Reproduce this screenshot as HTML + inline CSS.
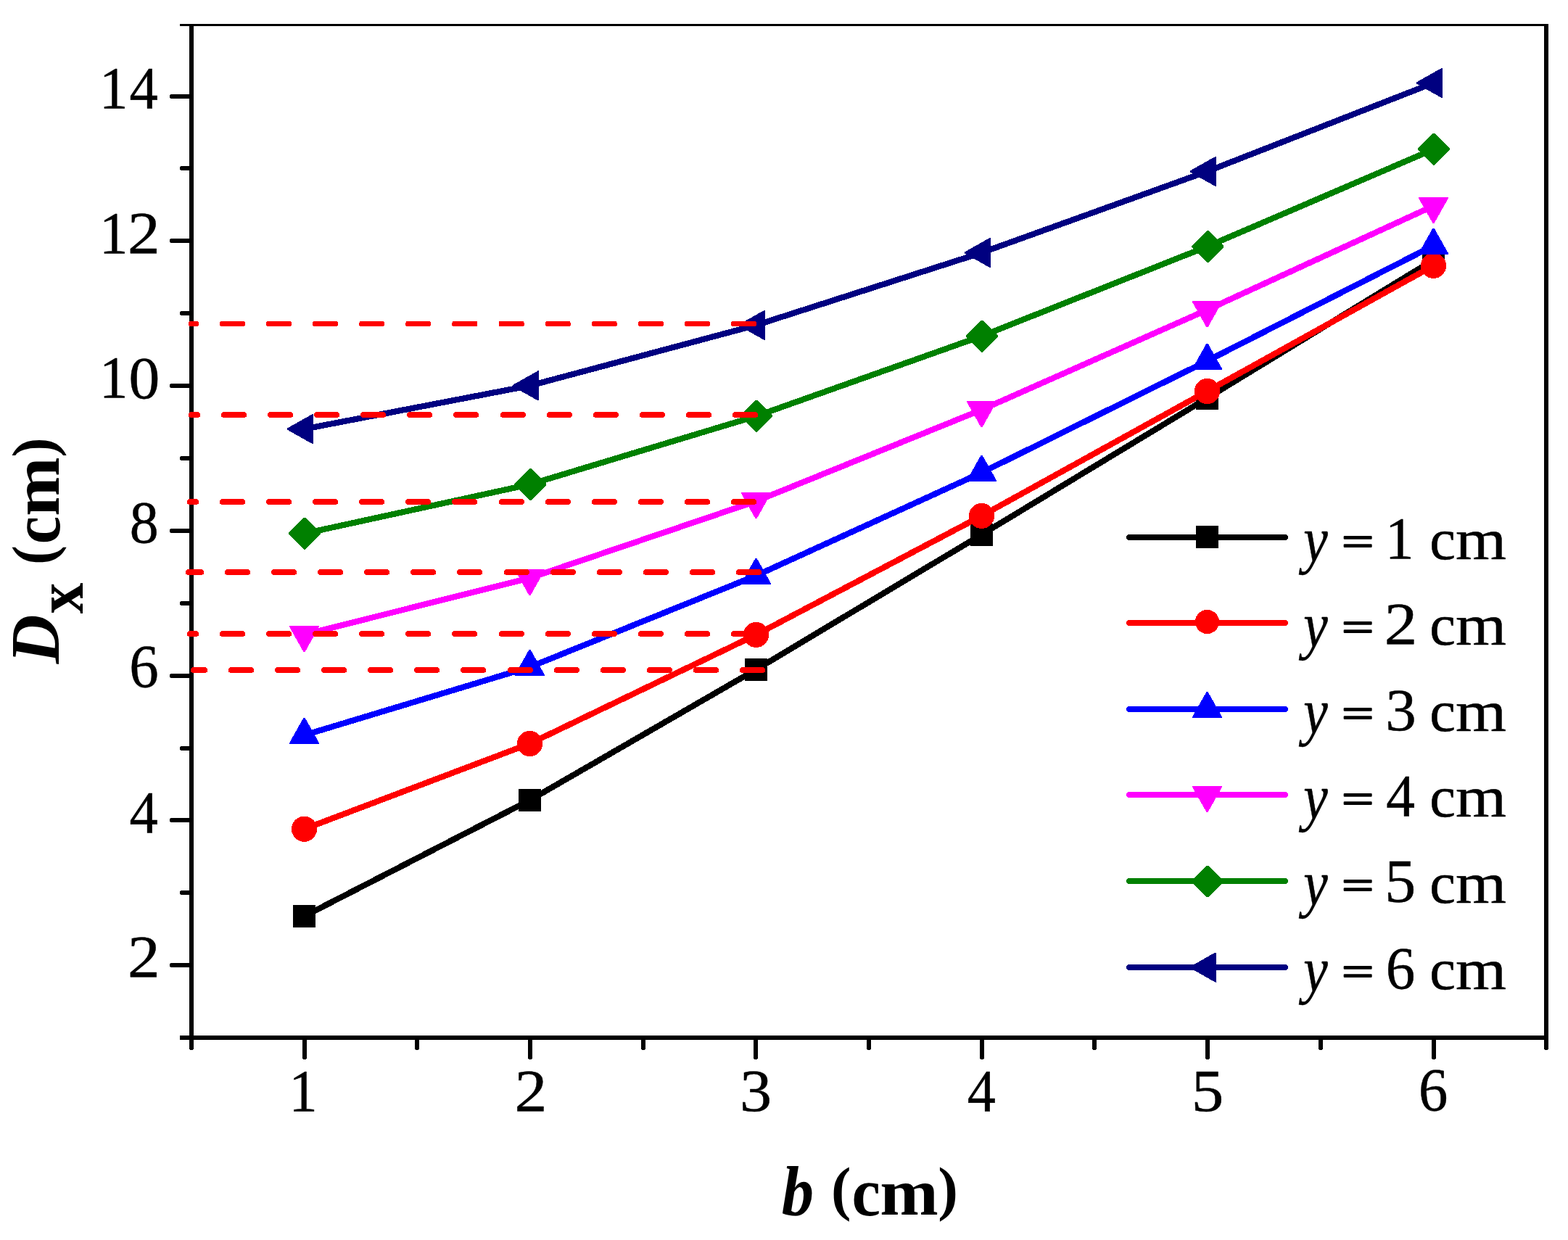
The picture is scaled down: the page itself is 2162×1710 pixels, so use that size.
<!DOCTYPE html>
<html lang="en"><head><meta charset="utf-8"><title>Dx versus b</title>
<style>html,body{margin:0;padding:0;background:#fff}body{width:2162px;height:1710px;overflow:hidden}svg{display:block}text{font-family:"Liberation Serif",serif;fill:#000}</style>
</head><body>
<svg width="2162" height="1710" viewBox="0 0 2162 1710" role="img" aria-label="Dx (cm) versus b (cm) for y = 1 to 6 cm">
<rect width="2162" height="1710" fill="#fff"/>
<g shape-rendering="crispEdges">
<g fill="#000" stroke="none">
<rect x="248" y="33" width="1887" height="3"/>
<rect x="261" y="33" width="6" height="1400"/>
<rect x="2129" y="33" width="6" height="1400"/>
<rect x="248" y="1428" width="1887" height="6"/>
</g>
<g fill="#000" stroke="none">
<rect x="235" y="1328" width="29" height="6"/><rect x="234" y="1329" width="30" height="4"/>
<rect x="235" y="1128" width="29" height="6"/><rect x="234" y="1129" width="30" height="4"/>
<rect x="235" y="929" width="29" height="6"/><rect x="234" y="930" width="30" height="4"/>
<rect x="235" y="729" width="29" height="6"/><rect x="234" y="730" width="30" height="4"/>
<rect x="235" y="529" width="29" height="6"/><rect x="234" y="530" width="30" height="4"/>
<rect x="235" y="329" width="29" height="6"/><rect x="234" y="330" width="30" height="4"/>
<rect x="235" y="130" width="29" height="6"/><rect x="234" y="131" width="30" height="4"/>
<rect x="249" y="1228" width="15" height="6"/><rect x="248" y="1229" width="16" height="4"/>
<rect x="249" y="1029" width="15" height="6"/><rect x="248" y="1030" width="16" height="4"/>
<rect x="249" y="829" width="15" height="6"/><rect x="248" y="830" width="16" height="4"/>
<rect x="249" y="629" width="15" height="6"/><rect x="248" y="630" width="16" height="4"/>
<rect x="249" y="429" width="15" height="6"/><rect x="248" y="430" width="16" height="4"/>
<rect x="249" y="229" width="15" height="6"/><rect x="248" y="230" width="16" height="4"/>
<rect x="417" y="1431" width="6" height="29"/><rect x="418" y="1431" width="4" height="30"/>
<rect x="728" y="1431" width="6" height="29"/><rect x="729" y="1431" width="4" height="30"/>
<rect x="1039" y="1431" width="6" height="29"/><rect x="1040" y="1431" width="4" height="30"/>
<rect x="1351" y="1431" width="6" height="29"/><rect x="1352" y="1431" width="4" height="30"/>
<rect x="1662" y="1431" width="6" height="29"/><rect x="1663" y="1431" width="4" height="30"/>
<rect x="1974" y="1431" width="6" height="29"/><rect x="1975" y="1431" width="4" height="30"/>
<rect x="572" y="1431" width="6" height="16"/><rect x="573" y="1431" width="4" height="17"/>
<rect x="884" y="1431" width="6" height="16"/><rect x="885" y="1431" width="4" height="17"/>
<rect x="1195" y="1431" width="6" height="16"/><rect x="1196" y="1431" width="4" height="17"/>
<rect x="1506" y="1431" width="6" height="16"/><rect x="1507" y="1431" width="4" height="17"/>
<rect x="1818" y="1431" width="6" height="16"/><rect x="1819" y="1431" width="4" height="17"/>
<rect x="261" y="1431" width="6" height="16"/><rect x="262" y="1431" width="4" height="17"/>
<rect x="2129" y="1431" width="6" height="16"/><rect x="2130" y="1431" width="4" height="17"/>
</g>
<g>
<polyline points="419.5,1263.5 730.5,1103.5 1042.5,923.3 1353.5,737.2 1664.5,549 1976.5,358.5" fill="none" stroke="#000000" stroke-width="8.2" stroke-linejoin="round"/>
<rect x="404" y="1248" width="31" height="31" fill="#000000"/>
<rect x="715" y="1088" width="31" height="31" fill="#000000"/>
<rect x="1027" y="907.8" width="31" height="31" fill="#000000"/>
<rect x="1338" y="721.7" width="31" height="31" fill="#000000"/>
<rect x="1649" y="533.5" width="31" height="31" fill="#000000"/>
<rect x="1961" y="343" width="31" height="31" fill="#000000"/>
</g>
<g>
<polyline points="419.5,1143.25 730.5,1025.5 1042.5,875.4 1353.5,711.4 1664.5,539.5 1976.5,366.4" fill="none" stroke="#ff0000" stroke-width="8.2" stroke-linejoin="round"/>
<circle cx="419.5" cy="1143.25" r="17.6" fill="#ff0000"/>
<circle cx="730.5" cy="1025.5" r="17.6" fill="#ff0000"/>
<circle cx="1042.5" cy="875.4" r="17.6" fill="#ff0000"/>
<circle cx="1353.5" cy="711.4" r="17.6" fill="#ff0000"/>
<circle cx="1664.5" cy="539.5" r="17.6" fill="#ff0000"/>
<circle cx="1976.5" cy="366.4" r="17.6" fill="#ff0000"/>
</g>
<g>
<polyline points="419.5,1013.8 730.5,919.9 1042.5,793.8 1353.5,651.8 1664.5,497.7 1976.5,338.7" fill="none" stroke="#0000ff" stroke-width="8.2" stroke-linejoin="round"/>
<polygon points="418.5,989.8 420.5,989.8 440,1024.4 440,1025.8 399,1025.8 399,1024.4" fill="#0000ff"/>
<polygon points="729.5,895.9 731.5,895.9 751,930.5 751,931.9 710,931.9 710,930.5" fill="#0000ff"/>
<polygon points="1041.5,769.8 1043.5,769.8 1063,804.4 1063,805.8 1022,805.8 1022,804.4" fill="#0000ff"/>
<polygon points="1352.5,627.8 1354.5,627.8 1374,662.4 1374,663.8 1333,663.8 1333,662.4" fill="#0000ff"/>
<polygon points="1663.5,473.7 1665.5,473.7 1685,508.3 1685,509.7 1644,509.7 1644,508.3" fill="#0000ff"/>
<polygon points="1975.5,314.7 1977.5,314.7 1997,349.3 1997,350.7 1956,350.7 1956,349.3" fill="#0000ff"/>
</g>
<g>
<polyline points="419.5,875.1 730.5,797.1 1042.5,691.2 1353.5,565.1 1664.5,427.3 1976.5,284" fill="none" stroke="#ff00ff" stroke-width="8.2" stroke-linejoin="round"/>
<polygon points="418.5,899.1 420.5,899.1 440,864.5 440,863.1 399,863.1 399,864.5" fill="#ff00ff"/>
<polygon points="729.5,821.1 731.5,821.1 751,786.5 751,785.1 710,785.1 710,786.5" fill="#ff00ff"/>
<polygon points="1041.5,715.2 1043.5,715.2 1063,680.6 1063,679.2 1022,679.2 1022,680.6" fill="#ff00ff"/>
<polygon points="1352.5,589.1 1354.5,589.1 1374,554.5 1374,553.1 1333,553.1 1333,554.5" fill="#ff00ff"/>
<polygon points="1663.5,451.3 1665.5,451.3 1685,416.7 1685,415.3 1644,415.3 1644,416.7" fill="#ff00ff"/>
<polygon points="1975.5,308 1977.5,308 1997,273.4 1997,272 1956,272 1956,273.4" fill="#ff00ff"/>
</g>
<g>
<polyline points="419.5,735.8 730.5,668 1042.5,573.9 1353.5,463.5 1664.5,340 1976.5,205.9" fill="none" stroke="#008000" stroke-width="8.2" stroke-linejoin="round"/>
<polygon points="419,713.8 421,713.8 442,734.8 442,736.8 421,757.8 419,757.8 398,736.8 398,734.8" fill="#008000"/>
<polygon points="730,646 732,646 753,667 753,669 732,690 730,690 709,669 709,667" fill="#008000"/>
<polygon points="1042,551.9 1044,551.9 1065,572.9 1065,574.9 1044,595.9 1042,595.9 1021,574.9 1021,572.9" fill="#008000"/>
<polygon points="1353,441.5 1355,441.5 1376,462.5 1376,464.5 1355,485.5 1353,485.5 1332,464.5 1332,462.5" fill="#008000"/>
<polygon points="1664,318 1666,318 1687,339 1687,341 1666,362 1664,362 1643,341 1643,339" fill="#008000"/>
<polygon points="1976,183.9 1978,183.9 1999,204.9 1999,206.9 1978,227.9 1976,227.9 1955,206.9 1955,204.9" fill="#008000"/>
</g>
<g>
<polyline points="419.5,591.6 730.5,531.9 1042.5,448.4 1353.5,348.5 1664.5,236.4 1976.5,114.4" fill="none" stroke="#000080" stroke-width="8.2" stroke-linejoin="round"/>
<polygon points="396,590.6 396,592.6 430.6,612.1 432,612.1 432,571.1 430.6,571.1" fill="#000080"/>
<polygon points="707,530.9 707,532.9 741.6,552.4 743,552.4 743,511.4 741.6,511.4" fill="#000080"/>
<polygon points="1019,447.4 1019,449.4 1053.6,468.9 1055,468.9 1055,427.9 1053.6,427.9" fill="#000080"/>
<polygon points="1330,347.5 1330,349.5 1364.6,369 1366,369 1366,328 1364.6,328" fill="#000080"/>
<polygon points="1641,235.4 1641,237.4 1675.6,256.9 1677,256.9 1677,215.9 1675.6,215.9" fill="#000080"/>
<polygon points="1953,113.4 1953,115.4 1987.6,134.9 1989,134.9 1989,93.9 1987.6,93.9" fill="#000080"/>
</g>
<g fill="none" stroke="#ff0000">
<path d="M1042.1 446.5 H260.9" stroke-width="7" stroke-dasharray="33.2 30.89"/>
<path d="M1042.75 446.5 H260.25" stroke-width="5.4" stroke-dasharray="34.5 29.59"/>
<path d="M1043 446.5 H260" stroke-width="4" stroke-dasharray="35 29.09"/>
<path d="M1043 572 H262" stroke-width="8" stroke-dasharray="31 33.09"/>
<path d="M1044 572 H261" stroke-width="6.6" stroke-dasharray="33 31.09"/>
<path d="M1044.6 572 H260.4" stroke-width="5" stroke-dasharray="34.2 29.89"/>
<path d="M1045 572 H260" stroke-width="3.4" stroke-dasharray="35 29.09"/>
<path d="M1041 692 H260" stroke-width="8" stroke-dasharray="31 33.09"/>
<path d="M1042 692 H259" stroke-width="6.6" stroke-dasharray="33 31.09"/>
<path d="M1042.6 692 H258.4" stroke-width="5" stroke-dasharray="34.2 29.89"/>
<path d="M1043 692 H258" stroke-width="3.4" stroke-dasharray="35 29.09"/>
<path d="M1048 789 H258" stroke-width="8" stroke-dasharray="31 33.09"/>
<path d="M1049 789 H257" stroke-width="6.6" stroke-dasharray="33 31.09"/>
<path d="M1049.6 789 H256.4" stroke-width="5" stroke-dasharray="34.2 29.89"/>
<path d="M1050 789 H256" stroke-width="3.4" stroke-dasharray="35 29.09"/>
<path d="M1041 874 H260" stroke-width="8" stroke-dasharray="31 33.09"/>
<path d="M1042 874 H259" stroke-width="6.6" stroke-dasharray="33 31.09"/>
<path d="M1042.6 874 H258.4" stroke-width="5" stroke-dasharray="34.2 29.89"/>
<path d="M1043 874 H258" stroke-width="3.4" stroke-dasharray="35 29.09"/>
<path d="M1053 924 H265" stroke-width="8" stroke-dasharray="31 33.09"/>
<path d="M1054 924 H264" stroke-width="6.6" stroke-dasharray="33 31.09"/>
<path d="M1054.6 924 H263.4" stroke-width="5" stroke-dasharray="34.2 29.89"/>
<path d="M1055 924 H263" stroke-width="3.4" stroke-dasharray="35 29.09"/>
</g>
<g>
<path d="M1557 741 H1772" stroke="#000000" stroke-width="8" stroke-linecap="round" fill="none"/>
<rect x="1649" y="725" width="31" height="31" fill="#000000"/>
<text xml:space="preserve"><tspan x="1797.175" y="773.698" font-size="88.148" textLength="33.49" lengthAdjust="spacingAndGlyphs" font-style="italic" stroke="#000" stroke-width="0.5" stroke-linejoin="round">y</tspan> <tspan x="1849.875" y="765.62" font-size="56" textLength="44.27" lengthAdjust="spacingAndGlyphs" stroke="#000" stroke-width="1.8" stroke-linejoin="round">=</tspan> <tspan x="1910.024" y="770.25" font-size="83.03" textLength="39.574" lengthAdjust="spacingAndGlyphs" stroke="#000" stroke-width="0.5" stroke-linejoin="round">1</tspan> <tspan x="1971.33" y="771.044" font-size="80.625" textLength="35.746" lengthAdjust="spacingAndGlyphs" stroke="#000" stroke-width="0.5" stroke-linejoin="round">c</tspan><tspan x="2006.948" y="770.85" font-size="80.213" textLength="70.085" lengthAdjust="spacingAndGlyphs" stroke="#000" stroke-width="0.5" stroke-linejoin="round">m</tspan></text>
<path d="M1557 859 H1772" stroke="#ff0000" stroke-width="8" stroke-linecap="round" fill="none"/>
<circle cx="1664.5" cy="857.5" r="16.6" fill="#ff0000"/>
<text xml:space="preserve"><tspan x="1797.175" y="891.698" font-size="88.148" textLength="33.49" lengthAdjust="spacingAndGlyphs" font-style="italic" stroke="#000" stroke-width="0.5" stroke-linejoin="round">y</tspan> <tspan x="1849.875" y="883.62" font-size="56" textLength="44.27" lengthAdjust="spacingAndGlyphs" stroke="#000" stroke-width="1.8" stroke-linejoin="round">=</tspan> <tspan x="1908.855" y="888.25" font-size="82.717" textLength="45.5" lengthAdjust="spacingAndGlyphs" stroke="#000" stroke-width="0.5" stroke-linejoin="round">2</tspan> <tspan x="1971.33" y="889.044" font-size="80.625" textLength="35.746" lengthAdjust="spacingAndGlyphs" stroke="#000" stroke-width="0.5" stroke-linejoin="round">c</tspan><tspan x="2006.948" y="888.85" font-size="80.213" textLength="70.085" lengthAdjust="spacingAndGlyphs" stroke="#000" stroke-width="0.5" stroke-linejoin="round">m</tspan></text>
<path d="M1557 978 H1772" stroke="#0000ff" stroke-width="8" stroke-linecap="round" fill="none"/>
<polygon points="1663.5,954 1665.5,954 1685,988.6 1685,990 1644,990 1644,988.6" fill="#0000ff"/>
<text xml:space="preserve"><tspan x="1797.175" y="1010.698" font-size="88.148" textLength="33.49" lengthAdjust="spacingAndGlyphs" font-style="italic" stroke="#000" stroke-width="0.5" stroke-linejoin="round">y</tspan> <tspan x="1849.875" y="1002.62" font-size="56" textLength="44.27" lengthAdjust="spacingAndGlyphs" stroke="#000" stroke-width="1.8" stroke-linejoin="round">=</tspan> <tspan x="1910.208" y="1007.42" font-size="82.974" textLength="42.545" lengthAdjust="spacingAndGlyphs" stroke="#000" stroke-width="0.5" stroke-linejoin="round">3</tspan> <tspan x="1971.33" y="1008.044" font-size="80.625" textLength="35.746" lengthAdjust="spacingAndGlyphs" stroke="#000" stroke-width="0.5" stroke-linejoin="round">c</tspan><tspan x="2006.948" y="1007.85" font-size="80.213" textLength="70.085" lengthAdjust="spacingAndGlyphs" stroke="#000" stroke-width="0.5" stroke-linejoin="round">m</tspan></text>
<path d="M1557 1096 H1772" stroke="#ff00ff" stroke-width="8" stroke-linecap="round" fill="none"/>
<polygon points="1663.5,1120 1665.5,1120 1685,1085.4 1685,1084 1644,1084 1644,1085.4" fill="#ff00ff"/>
<text xml:space="preserve"><tspan x="1797.175" y="1128.698" font-size="88.148" textLength="33.49" lengthAdjust="spacingAndGlyphs" font-style="italic" stroke="#000" stroke-width="0.5" stroke-linejoin="round">y</tspan> <tspan x="1849.875" y="1120.62" font-size="56" textLength="44.27" lengthAdjust="spacingAndGlyphs" stroke="#000" stroke-width="1.8" stroke-linejoin="round">=</tspan> <tspan x="1911.359" y="1125.25" font-size="83.346" textLength="39.785" lengthAdjust="spacingAndGlyphs" stroke="#000" stroke-width="0.5" stroke-linejoin="round">4</tspan> <tspan x="1971.33" y="1126.044" font-size="80.625" textLength="35.746" lengthAdjust="spacingAndGlyphs" stroke="#000" stroke-width="0.5" stroke-linejoin="round">c</tspan><tspan x="2006.948" y="1125.85" font-size="80.213" textLength="70.085" lengthAdjust="spacingAndGlyphs" stroke="#000" stroke-width="0.5" stroke-linejoin="round">m</tspan></text>
<path d="M1557 1215 H1772" stroke="#008000" stroke-width="8" stroke-linecap="round" fill="none"/>
<polygon points="1664,1193.9 1666,1193.9 1686.6,1214.5 1686.6,1216.5 1666,1237.1 1664,1237.1 1643.4,1216.5 1643.4,1214.5" fill="#008000"/>
<text xml:space="preserve"><tspan x="1797.175" y="1247.698" font-size="88.148" textLength="33.49" lengthAdjust="spacingAndGlyphs" font-style="italic" stroke="#000" stroke-width="0.5" stroke-linejoin="round">y</tspan> <tspan x="1849.875" y="1239.62" font-size="56" textLength="44.27" lengthAdjust="spacingAndGlyphs" stroke="#000" stroke-width="1.8" stroke-linejoin="round">=</tspan> <tspan x="1909.307" y="1244.411" font-size="83.91" textLength="42.981" lengthAdjust="spacingAndGlyphs" stroke="#000" stroke-width="0.5" stroke-linejoin="round">5</tspan> <tspan x="1971.33" y="1245.044" font-size="80.625" textLength="35.746" lengthAdjust="spacingAndGlyphs" stroke="#000" stroke-width="0.5" stroke-linejoin="round">c</tspan><tspan x="2006.948" y="1244.85" font-size="80.213" textLength="70.085" lengthAdjust="spacingAndGlyphs" stroke="#000" stroke-width="0.5" stroke-linejoin="round">m</tspan></text>
<path d="M1557 1334 H1772" stroke="#000080" stroke-width="8" stroke-linecap="round" fill="none"/>
<polygon points="1641,1333 1641,1335 1675.6,1354.5 1677,1354.5 1677,1313.5 1675.6,1313.5" fill="#000080"/>
<text xml:space="preserve"><tspan x="1797.175" y="1366.698" font-size="88.148" textLength="33.49" lengthAdjust="spacingAndGlyphs" font-style="italic" stroke="#000" stroke-width="0.5" stroke-linejoin="round">y</tspan> <tspan x="1849.875" y="1358.62" font-size="56" textLength="44.27" lengthAdjust="spacingAndGlyphs" stroke="#000" stroke-width="1.8" stroke-linejoin="round">=</tspan> <tspan x="1910.81" y="1363.42" font-size="82.974" textLength="40.468" lengthAdjust="spacingAndGlyphs" stroke="#000" stroke-width="0.5" stroke-linejoin="round">6</tspan> <tspan x="1971.33" y="1364.044" font-size="80.625" textLength="35.746" lengthAdjust="spacingAndGlyphs" stroke="#000" stroke-width="0.5" stroke-linejoin="round">c</tspan><tspan x="2006.948" y="1363.85" font-size="80.213" textLength="70.085" lengthAdjust="spacingAndGlyphs" stroke="#000" stroke-width="0.5" stroke-linejoin="round">m</tspan></text>
</g>
</g>
<g>
<text xml:space="preserve"><tspan x="137.049" y="149.05" font-size="82.576" textLength="39.433" lengthAdjust="spacingAndGlyphs" stroke="#000" stroke-width="0.5" stroke-linejoin="round">1</tspan><tspan x="178.524" y="149.05" font-size="82.89" textLength="39.409" lengthAdjust="spacingAndGlyphs" stroke="#000" stroke-width="0.5" stroke-linejoin="round">4</tspan></text>
<text xml:space="preserve"><tspan x="137.049" y="348.77" font-size="82.576" textLength="39.433" lengthAdjust="spacingAndGlyphs" stroke="#000" stroke-width="0.5" stroke-linejoin="round">1</tspan><tspan x="176.078" y="348.77" font-size="82.264" textLength="44.688" lengthAdjust="spacingAndGlyphs" stroke="#000" stroke-width="0.5" stroke-linejoin="round">2</tspan></text>
<text xml:space="preserve"><tspan x="137.049" y="548.49" font-size="82.576" textLength="39.433" lengthAdjust="spacingAndGlyphs" stroke="#000" stroke-width="0.5" stroke-linejoin="round">1</tspan><tspan x="177.538" y="548.556" font-size="83.407" textLength="42.824" lengthAdjust="spacingAndGlyphs" stroke="#000" stroke-width="0.5" stroke-linejoin="round">0</tspan></text>
<text xml:space="preserve"><tspan x="178.75" y="748.276" font-size="83.407" textLength="40" lengthAdjust="spacingAndGlyphs" stroke="#000" stroke-width="0.5" stroke-linejoin="round">8</tspan></text>
<text xml:space="preserve"><tspan x="178.31" y="947.993" font-size="83.717" textLength="40.468" lengthAdjust="spacingAndGlyphs" stroke="#000" stroke-width="0.5" stroke-linejoin="round">6</tspan></text>
<text xml:space="preserve"><tspan x="178.524" y="1147.65" font-size="82.89" textLength="39.409" lengthAdjust="spacingAndGlyphs" stroke="#000" stroke-width="0.5" stroke-linejoin="round">4</tspan></text>
<text xml:space="preserve"><tspan x="176.078" y="1347.37" font-size="82.264" textLength="44.688" lengthAdjust="spacingAndGlyphs" stroke="#000" stroke-width="0.5" stroke-linejoin="round">2</tspan></text>
<text xml:space="preserve"><tspan x="398.399" y="1532.15" font-size="82.576" textLength="39.149" lengthAdjust="spacingAndGlyphs" stroke="#000" stroke-width="0.5" stroke-linejoin="round">1</tspan></text>
<text xml:space="preserve"><tspan x="709.511" y="1532.15" font-size="82.264" textLength="44.875" lengthAdjust="spacingAndGlyphs" stroke="#000" stroke-width="0.5" stroke-linejoin="round">2</tspan></text>
<text xml:space="preserve"><tspan x="1019.958" y="1532.226" font-size="82.379" textLength="44.121" lengthAdjust="spacingAndGlyphs" stroke="#000" stroke-width="0.5" stroke-linejoin="round">3</tspan></text>
<text xml:space="preserve"><tspan x="1333.684" y="1532.15" font-size="82.89" textLength="39.14" lengthAdjust="spacingAndGlyphs" stroke="#000" stroke-width="0.5" stroke-linejoin="round">4</tspan></text>
<text xml:space="preserve"><tspan x="1642.821" y="1532.217" font-size="83.308" textLength="44.596" lengthAdjust="spacingAndGlyphs" stroke="#000" stroke-width="0.5" stroke-linejoin="round">5</tspan></text>
<text xml:space="preserve"><tspan x="1956.02" y="1532.213" font-size="83.717" textLength="40.351" lengthAdjust="spacingAndGlyphs" stroke="#000" stroke-width="0.5" stroke-linejoin="round">6</tspan></text>
</g>
<g>
<text xml:space="preserve"><tspan x="1077.691" y="1675.893" font-size="96.537" textLength="44.372" lengthAdjust="spacingAndGlyphs" font-weight="bold" font-style="italic">b</tspan> <tspan x="1146.094" y="1667.385" font-size="82.424" textLength="27.424" lengthAdjust="spacingAndGlyphs" font-weight="bold">(</tspan><tspan x="1174.591" y="1676.154" font-size="94.583" textLength="39.429" lengthAdjust="spacingAndGlyphs" font-weight="bold">c</tspan><tspan x="1213.243" y="1674.9" font-size="91.915" textLength="80.498" lengthAdjust="spacingAndGlyphs" font-weight="bold">m</tspan><tspan x="1293.199" y="1667.385" font-size="82.424" textLength="27.675" lengthAdjust="spacingAndGlyphs" font-weight="bold">)</tspan></text>
<text transform="rotate(-90)" xml:space="preserve"><tspan x="-915.197" y="80.963" font-size="94.753" textLength="67.711" lengthAdjust="spacingAndGlyphs" font-weight="bold" font-style="italic">D</tspan><tspan x="-846.227" y="114.1" font-size="93.043" textLength="42.653" lengthAdjust="spacingAndGlyphs" font-weight="bold">x</tspan> <tspan x="-778.682" y="73.874" font-size="83.416" textLength="26.51" lengthAdjust="spacingAndGlyphs" font-weight="bold">(</tspan><tspan x="-750.327" y="82.254" font-size="94.583" textLength="38.392" lengthAdjust="spacingAndGlyphs" font-weight="bold">c</tspan><tspan x="-712.096" y="81.2" font-size="92.34" textLength="81.661" lengthAdjust="spacingAndGlyphs" font-weight="bold">m</tspan><tspan x="-630.438" y="73.874" font-size="83.416" textLength="27.029" lengthAdjust="spacingAndGlyphs" font-weight="bold">)</tspan></text>
</g>
</svg>
</body></html>
